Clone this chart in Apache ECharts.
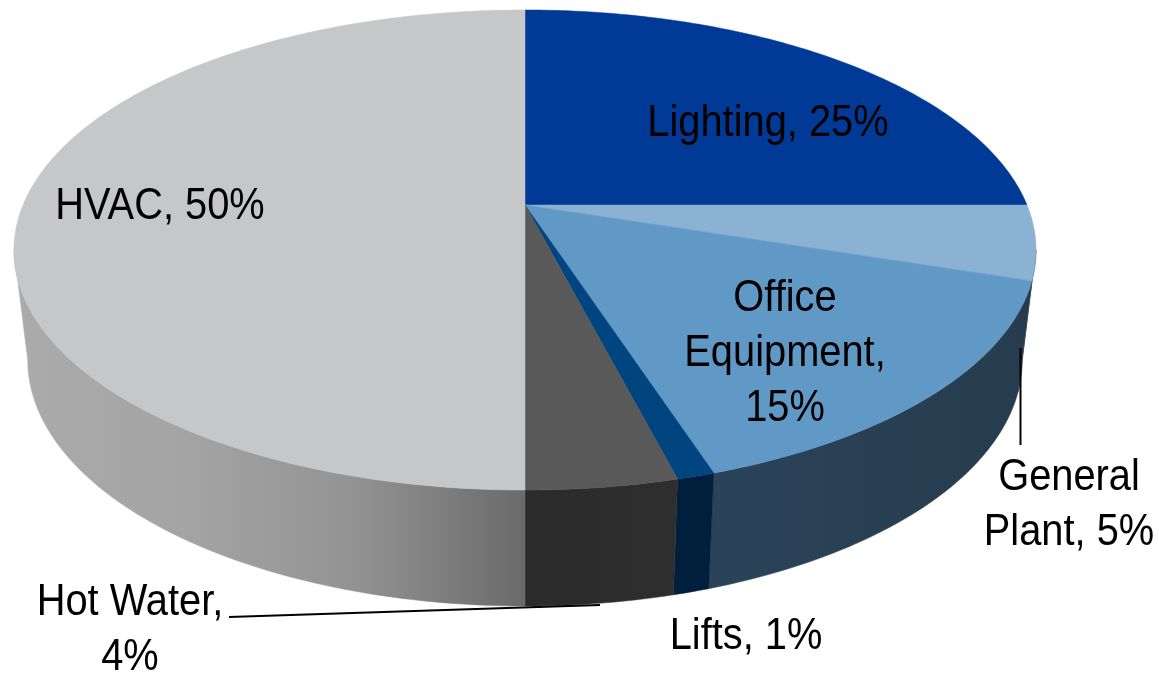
<!DOCTYPE html>
<html>
<head>
<meta charset="utf-8">
<title>Energy use</title>
<style>
    html,body{margin:0;padding:0;background:#fff}
    #chart{width:1159px;height:673px}
</style>
</head>
<body>
<div id="chart"></div>
<script src="https://cdn.jsdelivr.net/npm/echarts@6/dist/echarts.min.js"></script>
<script>
/* 数据 */
const categories = ['Lighting','General Plant','Office Equipment','Lifts','Hot Water','HVAC']
const shares = [25,5,15,1,4,50]
const labelTexts = ['Lighting, 25%','General\nPlant, 5%','Office\nEquipment,\n15%','Lifts, 1%','Hot Water,\n4%','HVAC, 50%']

/* 样式 */
const topColors = ['#003a96','#8bb2d3','#6199c6','#004480','#595959','#c6c7c9']
const wallColors = [
    '#00296b','#263c4e',
    ['#2b4359','#263c4e'],
    '#001f3c',
    ['#2b2b2b','#2e2e2e'],
    ['#ababab','#a4a4a4','#929392','#6a6a6a']
]
const labelPos = [[768,124],[1069,505],[785,354],[746,637],[130,630],[160,207]]
const leaders = [[[1020.5,348],[1020.5,445]],[[229,617],[600,605]]]

// 透视参数
const apex = [525,205]
const halfWidth = 502
const halfDepth = 231.6
const tilt = 0.1875
// 底圈相对顶圈的变换
const wallScaleX = 0.973
const wallScaleY = 1.025
const topMidY = 250
const bottomMidY = 360
// 侧面可见范围，到左右切点为止
const wallFrom = 90 + Math.asin(tilt) * 180 / Math.PI
const wallTo = 360 - wallFrom

// 百分比转角度，从正上方顺时针
const toAngle = pct => pct * 3.6
const startOf = i => shares.slice(0,i).reduce((a,b) => a + b,0)

// 圆盘上一点投影到屏幕
function rim(deg){
    let a = deg * Math.PI / 180
    let u = Math.sin(a), v = Math.cos(a)
    let w = 1 + tilt * v
    return [apex[0] + halfWidth * u / w, apex[1] - halfDepth * v / w]
}

function rimBottom(deg){
    let p = rim(deg)
    return [apex[0] + (p[0] - apex[0]) * wallScaleX, bottomMidY + (p[1] - topMidY) * wallScaleY]
}

function arc(from,to,fn){
    let pts = []
    let n = Math.max(2,Math.ceil(Math.abs(to - from)))
    for(let i = 0;i <= n;i++) pts.push(fn(from + (to - from) * i / n))
    return pts
}

function fillOf(c){
    if(typeof c === 'string') return c
    return {
        type:'linear',x:0,y:0,x2:1,y2:0,
        colorStops:c.map((color,i) => ({offset:i / (c.length - 1),color}))
    }
}

// 顶面
function renderTop(params,api){
    let i = params.dataIndex
    let from = toAngle(startOf(i))
    let to = from + toAngle(api.value(0))
    let color = topColors[i]
    return {
        type:'polygon',
        shape:{points:[apex].concat(arc(from,to,rim))},
        style:{fill:color,stroke:color,lineWidth:0.5}
    }
}

// 侧面，只有朝前的部分
function renderWall(params,api){
    let i = params.dataIndex
    let from = Math.max(wallFrom,toAngle(startOf(i)))
    let to = Math.min(wallTo,toAngle(startOf(i)) + toAngle(api.value(0)))
    if(to <= from) return null
    let color = fillOf(wallColors[i])
    return {
        type:'polygon',
        shape:{points:arc(from,to,rim).concat(arc(to,from,rimBottom))},
        style:{fill:color,stroke:color,lineWidth:0.5}
    }
}

function renderLabel(params){
    let i = params.dataIndex
    return {
        type:'text',
        x:labelPos[i][0],
        y:labelPos[i][1],
        scaleX:0.885,
        style:{
            text:labelTexts[i],
            fill:'#000',
            font:'45px "Liberation Sans", Arial, sans-serif',
            lineHeight:55,
            align:'center',
            verticalAlign:'middle'
        }
    }
}

function renderLeader(params){
    let line = leaders[params.dataIndex]
    return {
        type:'line',
        shape:{x1:line[0][0],y1:line[0][1],x2:line[1][0],y2:line[1][1]},
        style:{stroke:'#000',lineWidth:2}
    }
}

const sliceData = categories.map((name,i) => ({name,value:shares[i]}))

let myChart = echarts.init(document.getElementById('chart'))
myChart.setOption({
    animation:false,
    backgroundColor:'#fff',
    series:[
        {type:'custom',coordinateSystem:'none',z:1,silent:true,renderItem:renderWall,data:sliceData},
        {type:'custom',coordinateSystem:'none',z:2,silent:true,renderItem:renderTop,data:sliceData},
        {type:'custom',coordinateSystem:'none',z:3,silent:true,renderItem:renderLeader,data:leaders.map((l,i) => i)},
        {type:'custom',coordinateSystem:'none',z:4,silent:true,renderItem:renderLabel,data:sliceData}
    ]
})
</script>
</body>
</html>
